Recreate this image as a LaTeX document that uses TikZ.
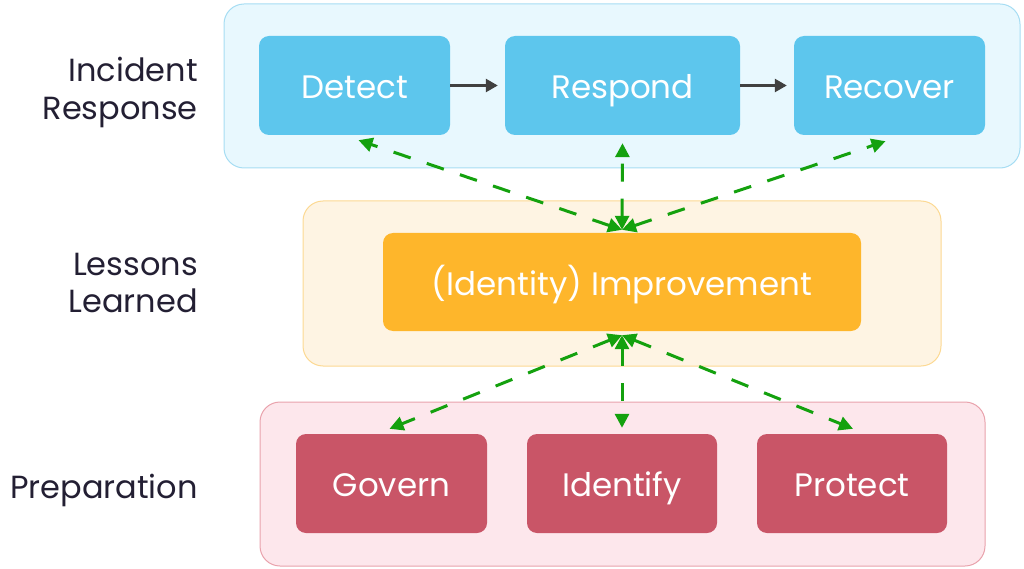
\documentclass[tikz,border=0pt]{standalone}
\usepackage{fontspec}
\setmainfont{Poppins}
\usetikzlibrary{arrows.meta,calc}
\definecolor{topfill}{HTML}{E8F8FE}
\definecolor{topdraw}{HTML}{A6DDF3}
\definecolor{bluebox}{HTML}{5DC6ED}
\definecolor{midfill}{HTML}{FEF4E3}
\definecolor{middraw}{HTML}{FCD993}
\definecolor{orangebox}{HTML}{FEB62B}
\definecolor{botfill}{HTML}{FDE7EC}
\definecolor{botdraw}{HTML}{E9A2AC}
\definecolor{redbox}{HTML}{C95567}
\definecolor{labeltext}{HTML}{231F33}
\definecolor{flowgray}{HTML}{404040}
\definecolor{linkgreen}{HTML}{14A10E}
\tikzset{
  group/.style={draw, line width=1pt, rounded corners=20pt, inner sep=0pt},
  stagebox/.style={rounded corners=10pt, text=white, inner sep=0pt,
    text height=26pt, text depth=0pt,
    font=\fontsize{32.5}{38}\selectfont},
  rowlabel/.style={anchor=east, align=right, text=labeltext, inner sep=0pt,
    font=\fontsize{32}{37.5}\selectfont},
  flow/.style={draw=flowgray, line width=2.5pt, -{Triangle[length=12pt,width=13pt]}},
  link/.style={draw=linkgreen, line width=3pt, dash pattern=on 18pt off 17pt,
    {Triangle[length=14pt,width=14pt]}-{Triangle[length=14pt,width=14pt]}}
}
\begin{document}
\begin{tikzpicture}[x=1pt,y=-1pt]
\useasboundingbox (0,0) rectangle (1024,569);
% groups
\node[group, fill=topfill, draw=topdraw, minimum width=796pt, minimum height=164pt] (gtop) at (622,86) {};
\node[group, fill=midfill, draw=middraw, minimum width=638pt, minimum height=165pt] (gmid) at (622,283.5) {};
\node[group, fill=botfill, draw=botdraw, minimum width=725pt, minimum height=164pt] (gbot) at (622.5,484) {};
% stages
\node[stagebox, fill=bluebox, minimum width=191pt, minimum height=99pt] (detect) at (354.5,85.5) {Detect};
\node[stagebox, fill=bluebox, minimum width=235pt, minimum height=99pt] (respond) at (622.5,85.5) {Respond};
\node[stagebox, fill=bluebox, minimum width=191pt, minimum height=99pt] (recover) at (889.5,85.5) {Recover};
\node[stagebox, fill=orangebox, minimum width=478pt, minimum height=98pt] (improve) at (622,282) {(Identity) Improvement};
\node[stagebox, fill=redbox, minimum width=191pt, minimum height=99pt] (govern) at (391.5,483.5) {Govern};
\node[stagebox, fill=redbox, minimum width=190pt, minimum height=99pt] (identify) at (622,483.5) {Identify};
\node[stagebox, fill=redbox, minimum width=190pt, minimum height=99pt] (protect) at (852,483.5) {Protect};
% labels
\node[rowlabel] (lir) at (198,92.5) {Incident\\Response};
\node[rowlabel] (lll) at (198,283) {Lessons\\Learned};
\node[rowlabel] (lprep) at (198,490) {Preparation};
% flow
\draw[flow, shorten >=7pt] (detect.east) -- (respond.west);
\draw[flow, shorten >=7pt] (respond.east) -- (recover.west);
% links
\coordinate (itop) at ($(improve.north)+(0,-3)$);
\coordinate (ibot) at ($(improve.south)+(0,4)$);
\draw[link] (itop) -- ($(detect.south)+(4,5)$);
\draw[link] (itop) -- ($(respond.south)+(0,8)$);
\draw[link] (itop) -- ($(recover.south)+(-4,6)$);
\draw[link] (ibot) -- ($(govern.north)+(-2,-5)$);
\draw[link] (ibot) -- ($(identify.north)+(0,-6)$);
\draw[link] (ibot) -- ($(protect.north)+(1,-5)$);
\end{tikzpicture}
\end{document}
